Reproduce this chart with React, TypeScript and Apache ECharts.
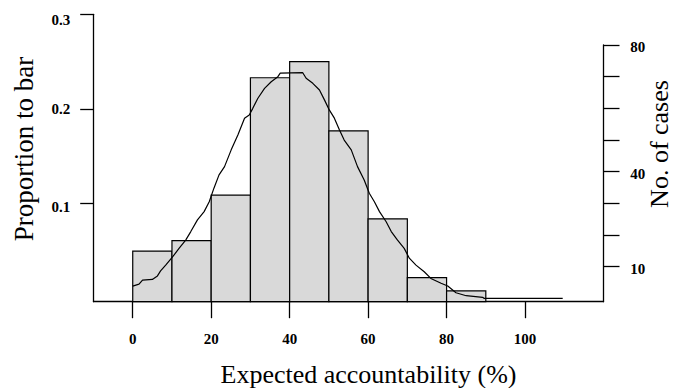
import React, { useEffect, useRef } from "react";
import * as echarts from "echarts";

// Histogram bins (Expected accountability, %)
const binStart = [0, 10, 20, 30, 40, 50, 60, 70, 80];
const binEnd = [10, 20, 30, 40, 50, 60, 70, 80, 90];
const binProportion = [0.05, 0.061, 0.109, 0.233, 0.25, 0.177, 0.084, 0.022, 0.008];

// Stepped curve (No. of cases)
const curveX = [
  0, 1.6, 2.5, 5.0, 6.3, 7.1, 8.4, 10.1, 11.8, 13.5, 14.8, 16.5, 18.2, 19.5, 20.7, 22.0,
  23.4, 25.1, 26.8, 28.5, 29.7, 30.6, 31.9, 33.6, 35.3, 37.0, 37.6, 43.3, 44.2, 45.9, 47.6,
  48.9, 50.1, 51.4, 52.7, 53.9, 55.7, 57.3, 59.0, 60.3, 61.6, 62.9, 64.6, 65.9, 67.5, 69.2,
  70.5, 72.2, 74.3, 76.0, 78.6, 80.3, 82.4, 85.0, 89.2, 89.6, 109.6,
];
const curveCases = [
  3.9, 4.5, 5.8, 6.0, 7.1, 8.7, 10.5, 13.0, 15.8, 18.4, 21.1, 24.8, 27.4, 30.5, 34.8, 39.0,
  41.6, 46.9, 51.6, 56.9, 57.9, 60.0, 63.2, 66.3, 68.4, 70.0, 71.1, 71.3, 69.5, 67.9, 65.8,
  62.6, 59.5, 56.9, 53.2, 50.0, 46.9, 41.6, 37.4, 33.2, 30.5, 27.4, 24.2, 21.1, 18.4, 15.8,
  12.7, 10.5, 8.4, 6.3, 4.8, 3.9, 1.8, 0.85, 0.35, 0, 0,
];

// Axis ticks / labels
const xTicks = [0, 20, 40, 60, 80, 100];
const leftTicks = [0.1, 0.2, 0.3];
const rightTicks = [10, 20, 30, 40, 50, 60, 70, 80];
const rightLabels = [10, 40, 80];

const X_MIN = -10;
const X_MAX = 120;
const LEFT_MIN = -0.0035;
const LEFT_MAX = 0.3;
const RIGHT_MIN = -1.04;
const RIGHT_MAX = 80;

const FONT = "'Liberation Serif', 'Times New Roman', serif";
const axisLineStyle = { color: "#000", width: 1.3 };
const tickLabel = {
  color: "#000",
  fontFamily: FONT,
  fontWeight: "bold" as const,
  fontSize: 15,
};

export default function App() {
  const ref = useRef<HTMLDivElement>(null);

  useEffect(() => {
    if (!ref.current) return;
    const chart = echarts.init(ref.current, null, { renderer: "svg" });
    const option: any = {
      animation: false,
      backgroundColor: "#fff",
      grid: [
        { left: 93.5, right: 71.5, top: 14.3, bottom: 86.3 },
        { left: 93.5, right: 71.5, top: 45, bottom: 86.3 },
      ],
      xAxis: [
        {
          type: "value",
          gridIndex: 0,
          min: X_MIN,
          max: X_MAX,
          axisLine: { show: true, onZero: false, lineStyle: axisLineStyle },
          axisTick: {
            show: true,
            customValues: xTicks,
            length: 16.5,
            lineStyle: axisLineStyle,
          },
          axisLabel: { ...tickLabel, customValues: xTicks, margin: 30 },
          splitLine: { show: false },
        },
        { type: "value", gridIndex: 1, min: X_MIN, max: X_MAX, show: false },
      ],
      yAxis: [
        {
          type: "value",
          gridIndex: 0,
          position: "left",
          min: LEFT_MIN,
          max: LEFT_MAX,
          axisLine: { show: true, onZero: false, lineStyle: axisLineStyle },
          axisTick: {
            show: true,
            customValues: leftTicks,
            length: 13.3,
            lineStyle: axisLineStyle,
          },
          axisLabel: {
            ...tickLabel,
            customValues: leftTicks,
            margin: 23.3,
            formatter: (v: number) => {
              const s = v.toFixed(1);
              if (s === "0.3") return "{a|" + s + "}";
              if (s === "0.1") return "{b|" + s + "}";
              return s;
            },
            rich: {
              a: { ...tickLabel, padding: [12, 0, 0, 0] },
              b: { ...tickLabel, padding: [7, 0, 0, 0] },
            },
          },
          splitLine: { show: false },
        },
        {
          type: "value",
          gridIndex: 1,
          position: "right",
          min: RIGHT_MIN,
          max: RIGHT_MAX,
          axisLine: { show: true, onZero: false, lineStyle: axisLineStyle },
          axisTick: {
            show: true,
            customValues: rightTicks,
            length: 16,
            lineStyle: axisLineStyle,
          },
          axisLabel: {
            ...tickLabel,
            customValues: rightLabels,
            margin: 26.7,
            formatter: (v: number) => "{r|" + v + "}",
            rich: { r: { ...tickLabel, padding: [4, 0, 0, 0] } },
          },
          splitLine: { show: false },
        },
      ],
      graphic: [
        {
          type: "text",
          x: 24,
          y: 149,
          rotation: Math.PI / 2,
          style: {
            text: "Proportion to bar",
            fontFamily: FONT,
            fontSize: 27,
            fill: "#000",
            textAlign: "center",
            textVerticalAlign: "middle",
          },
        },
        {
          type: "text",
          x: 659.5,
          y: 144,
          rotation: Math.PI / 2,
          style: {
            text: "No. of cases",
            fontFamily: FONT,
            fontSize: 26,
            fill: "#000",
            textAlign: "center",
            textVerticalAlign: "middle",
          },
        },
        {
          type: "text",
          x: 368.5,
          y: 374,
          style: {
            text: "Expected accountability (%)",
            fontFamily: FONT,
            fontSize: 26,
            fill: "#000",
            textAlign: "center",
            textVerticalAlign: "middle",
          },
        },
      ],
      series: [
        {
          type: "custom",
          xAxisIndex: 0,
          yAxisIndex: 0,
          data: binStart.map((s, i) => [s, binEnd[i], binProportion[i]]),
          encode: { x: [0, 1], y: 2 },
          renderItem: (_params: any, api: any) => {
            const p0 = api.coord([api.value(0), api.value(2)]);
            const p1 = api.coord([api.value(1), LEFT_MIN]);
            return {
              type: "rect",
              shape: {
                x: p0[0],
                y: p0[1],
                width: p1[0] - p0[0],
                height: p1[1] - p0[1],
              },
              style: { fill: "#d9d9d9", stroke: "#000", lineWidth: 1.2 },
            };
          },
        },
        {
          type: "line",
          xAxisIndex: 1,
          yAxisIndex: 1,
          symbol: "none",
          data: curveX.map((x, i) => [x, curveCases[i]]),
          lineStyle: { color: "#000", width: 1.2 },
          z: 5,
        },
      ],
    };
    chart.setOption(option);
    return () => chart.dispose();
  }, []);

  return (
    <div
      ref={ref}
      style={{ position: "fixed", left: 0, top: 0, width: 675, height: 388, background: "#fff" }}
    />
  );
}
